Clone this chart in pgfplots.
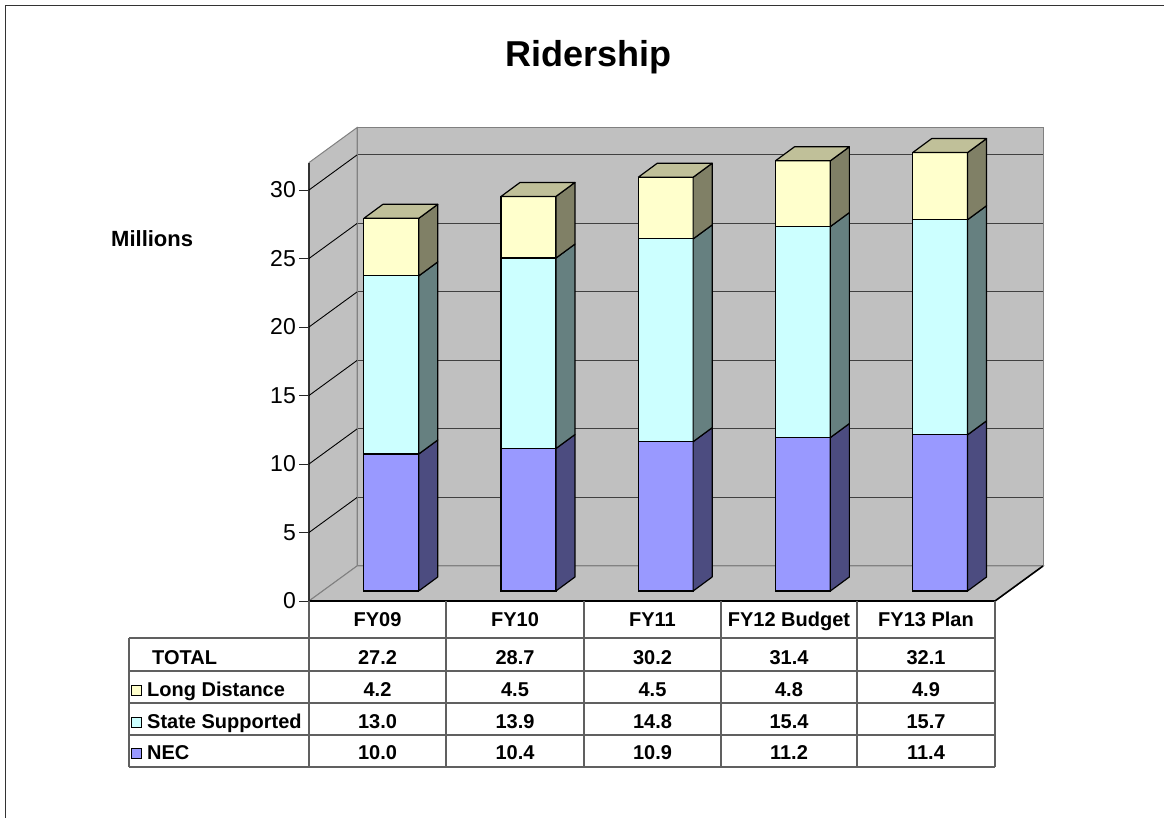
\documentclass[border=0pt]{standalone}
\usepackage{fontspec}
\setmainfont{Liberation Sans}
\usepackage{pgfplots}
\pgfplotsset{compat=1.18}
\definecolor{wall}{HTML}{C0C0C0}
\definecolor{necfront}{HTML}{9999FF}
\definecolor{necside}{HTML}{4C4C80}
\definecolor{ssfront}{HTML}{CCFFFF}
\definecolor{ssside}{HTML}{668080}
\definecolor{ldfront}{HTML}{FFFFCC}
\definecolor{ldside}{HTML}{808066}
\definecolor{ldtop}{HTML}{C0C099}
\definecolor{tline}{HTML}{606060}
\newcommand\face[2]{\addplot[fill=#1,draw=black,line width=1.2pt,line join=round] coordinates {#2};}
\newcommand\tfont{\fontsize{20}{23}\selectfont\bfseries}
\begin{document}
\begin{tikzpicture}[x=1pt,y=1pt]
\path[use as bounding box] (0,0) rectangle (1164,818);
\draw[line width=1.7pt, black!80] (5.5,0) -- (5.5,812.5) -- (1164,812.5);
\node[anchor=base, font=\fontsize{36}{42}\selectfont\bfseries] at (588.5,751) {Ridership};
\node[anchor=base west, font=\fontsize{22}{26}\selectfont\bfseries, inner sep=0pt] at (111,571) {Millions};

% back wall
\begin{axis}[at={(357pt,252pt)}, anchor=south west, x=137.2pt, y=13.7pt,
  xmin=-0.5, xmax=4.5, ymin=0, ymax=32, xtick=\empty, ytick={5,10,...,30}, yticklabels={},
  ymajorgrids, grid style={black!75,line width=1pt}, major tick length=0pt,
  axis background/.style={fill=wall}, axis line style={gray, line width=1pt}]
\addplot[draw=none] coordinates {(0,0)};
\end{axis}

% front plane: left wall, floor, y ticks
\begin{axis}[at={(309pt,217pt)}, anchor=south west, x=137.2pt, y=13.7pt,
  xmin=-0.5, xmax=4.5, ymin=0, ymax=32, clip=false, axis line style={draw=none},
  xtick=\empty, ytick={0,5,...,30}, ytick pos=left, tick align=outside,
  major tick length=10pt, tick style={black!85, line width=0.9pt},
  yticklabel style={font=\fontsize{23}{27}\selectfont, inner sep=0pt, xshift=-3pt},
  /pgf/number format/assume math mode=true]
\addplot[fill=wall, draw=gray, line width=1pt] coordinates {(-0.5,0) (-0.15,2.555) (-0.15,34.555) (-0.5,32) (-0.5,0)};
\addplot[fill=wall, draw=gray, line width=1pt] coordinates {(-0.5,0) (4.5,0) (4.85,2.555) (-0.15,2.555) (-0.5,0)};
\addplot[black, line width=1.6pt] coordinates {(-0.5,0) (4.5,0) (4.85,2.555)};
\addplot[black!80, line width=1.2pt] coordinates {(-0.5,0) (-0.5,32)};
\addplot[black, line width=0.9pt] coordinates {(-0.5,5) (-0.15,7.555)};
\addplot[black, line width=0.9pt] coordinates {(-0.5,10) (-0.15,12.555)};
\addplot[black, line width=0.9pt] coordinates {(-0.5,15) (-0.15,17.555)};
\addplot[black, line width=0.9pt] coordinates {(-0.5,20) (-0.15,22.555)};
\addplot[black, line width=0.9pt] coordinates {(-0.5,25) (-0.15,27.555)};
\addplot[black, line width=0.9pt] coordinates {(-0.5,30) (-0.15,32.555)};
\end{axis}

% bar front faces
\begin{axis}[at={(322.7pt,227pt)}, anchor=south west, x=137.2pt, y=13.7pt,
  xmin=-0.5, xmax=4.5, ymin=0, ymax=32, hide axis, clip=false, ybar stacked, bar width=0.4]
\addplot[fill=necfront, draw=black, line width=1.2pt] coordinates {(0,10.0) (1,10.4) (2,10.9) (3,11.2) (4,11.4)};
\addplot[fill=ssfront, draw=black, line width=1.2pt] coordinates {(0,13.0) (1,13.9) (2,14.8) (3,15.4) (4,15.7)};
\addplot[fill=ldfront, draw=black, line width=1.2pt] coordinates {(0,4.2) (1,4.5) (2,4.5) (3,4.8) (4,4.9)};
\end{axis}

% bar side and top faces
\begin{axis}[at={(322.7pt,227pt)}, anchor=south west, x=137.2pt, y=13.7pt,
  xmin=-0.5, xmax=4.5, ymin=0, ymax=32, hide axis, clip=false]
\face{necside}{(0.2,0) (0.3385,1.022) (0.3385,11.022) (0.2,10) (0.2,0)}
\face{ssside}{(0.2,10) (0.3385,11.022) (0.3385,24.022) (0.2,23) (0.2,10)}
\face{ldside}{(0.2,23) (0.3385,24.022) (0.3385,28.222) (0.2,27.2) (0.2,23)}
\face{ldtop}{(-0.2,27.2) (0.2,27.2) (0.3385,28.222) (-0.0615,28.222) (-0.2,27.2)}
\face{necside}{(1.2,0) (1.3385,1.022) (1.3385,11.422) (1.2,10.4) (1.2,0)}
\face{ssside}{(1.2,10.4) (1.3385,11.422) (1.3385,25.322) (1.2,24.3) (1.2,10.4)}
\face{ldside}{(1.2,24.3) (1.3385,25.322) (1.3385,29.822) (1.2,28.8) (1.2,24.3)}
\face{ldtop}{(0.8,28.8) (1.2,28.8) (1.3385,29.822) (0.9385,29.822) (0.8,28.8)}
\face{necside}{(2.2,0) (2.3385,1.022) (2.3385,11.922) (2.2,10.9) (2.2,0)}
\face{ssside}{(2.2,10.9) (2.3385,11.922) (2.3385,26.722) (2.2,25.7) (2.2,10.9)}
\face{ldside}{(2.2,25.7) (2.3385,26.722) (2.3385,31.222) (2.2,30.2) (2.2,25.7)}
\face{ldtop}{(1.8,30.2) (2.2,30.2) (2.3385,31.222) (1.9385,31.222) (1.8,30.2)}
\face{necside}{(3.2,0) (3.3385,1.022) (3.3385,12.222) (3.2,11.2) (3.2,0)}
\face{ssside}{(3.2,11.2) (3.3385,12.222) (3.3385,27.622) (3.2,26.6) (3.2,11.2)}
\face{ldside}{(3.2,26.6) (3.3385,27.622) (3.3385,32.422) (3.2,31.4) (3.2,26.6)}
\face{ldtop}{(2.8,31.4) (3.2,31.4) (3.3385,32.422) (2.9385,32.422) (2.8,31.4)}
\face{necside}{(4.2,0) (4.3385,1.022) (4.3385,12.422) (4.2,11.4) (4.2,0)}
\face{ssside}{(4.2,11.4) (4.3385,12.422) (4.3385,28.122) (4.2,27.1) (4.2,11.4)}
\face{ldside}{(4.2,27.1) (4.3385,28.122) (4.3385,33.022) (4.2,32.0) (4.2,27.1)}
\face{ldtop}{(3.8,32.0) (4.2,32.0) (4.3385,33.022) (3.9385,33.022) (3.8,32.0)}
\end{axis}

% data table
\begin{scope}[tline, line width=1.2pt]
\foreach \yy in {180,147,115,83,51} \draw (129,\yy) -- (995,\yy);
\draw (129,180) -- (129,51);
\foreach \xx in {309,446,584,721,857,995} \draw (\xx,217) -- (\xx,51);
\end{scope}
\begin{scope}[every node/.style={anchor=base, font=\tfont, inner sep=0pt}]
\node at (377.5,191) {FY09};
\node at (515,191) {FY10};
\node at (652.5,191) {FY11};
\node at (789,191) {FY12 Budget};
\node at (926,191) {FY13 Plan};
\node[anchor=base west] at (152,153) {TOTAL};
\node[anchor=base west] at (147,121) {Long Distance};
\node[anchor=base west] at (147,89) {State Supported};
\node[anchor=base west] at (147,58) {NEC};
\node at (377.5,153) {27.2}; \node at (515,153) {28.7}; \node at (652.5,153) {30.2}; \node at (789,153) {31.4}; \node at (926,153) {32.1};
\node at (377.5,121) {4.2}; \node at (515,121) {4.5}; \node at (652.5,121) {4.5}; \node at (789,121) {4.8}; \node at (926,121) {4.9};
\node at (377.5,89) {13.0}; \node at (515,89) {13.9}; \node at (652.5,89) {14.8}; \node at (789,89) {15.4}; \node at (926,89) {15.7};
\node at (377.5,58) {10.0}; \node at (515,58) {10.4}; \node at (652.5,58) {10.9}; \node at (789,58) {11.2}; \node at (926,58) {11.4};
\end{scope}
\draw[fill=ldfront, draw=black, line width=0.8pt] (131,123) rectangle (141,133);
\draw[fill=ssfront, draw=black, line width=0.8pt] (131,91) rectangle (141,101);
\draw[fill=necfront, draw=black, line width=0.8pt] (131,60) rectangle (141,70);
\end{tikzpicture}
\end{document}
